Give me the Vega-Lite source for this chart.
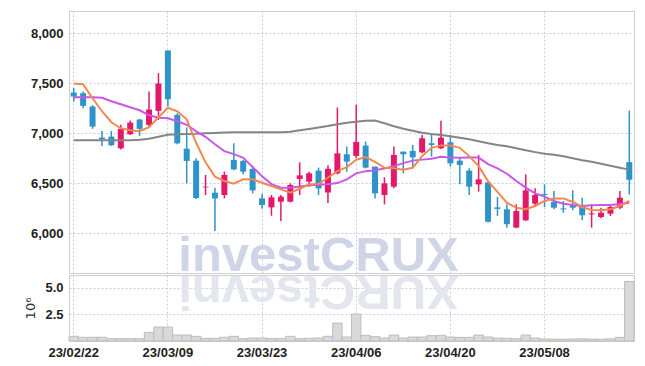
{
  "$schema": "https://vega.github.io/schema/vega-lite/v6.json",
  "padding": {"left": 24, "top": 10, "right": 9, "bottom": 4},
  "spacing": 0,
  "background": "white",
  "config": {
    "view": {"stroke": "#cfcfcf", "strokeWidth": 1},
    "axis": {
      "labelFont": "Liberation Sans",
      "labelFontWeight": "bold",
      "labelFontSize": 13,
      "labelColor": "#222222",
      "gridColor": "#c9cce0",
      "gridDash": [2, 2],
      "gridWidth": 1,
      "domain": false,
      "ticks": false,
      "tickSize": 0
    }
  },
  "datasets": {
    "ohlc": [
      {"date": "23/02/22", "open": 7407, "high": 7453, "low": 7317, "close": 7367, "volume": 440000, "ma5": 7497, "ma20": 7360, "ma60": 6930},
      {"date": "23/02/23", "open": 7400, "high": 7417, "low": 7250, "close": 7274, "volume": 350000, "ma5": 7490, "ma20": 7360, "ma60": 6930},
      {"date": "23/02/24", "open": 7267, "high": 7280, "low": 7044, "close": 7067, "volume": 350000, "ma5": 7350, "ma20": 7360, "ma60": 6930},
      {"date": "23/02/27", "open": 6957, "high": 7024, "low": 6874, "close": 6940, "volume": 350000, "ma5": 7220, "ma20": 7355, "ma60": 6930},
      {"date": "23/02/28", "open": 6967, "high": 7024, "low": 6874, "close": 6880, "volume": 220000, "ma5": 7110, "ma20": 7320, "ma60": 6930},
      {"date": "23/03/02", "open": 6850, "high": 7084, "low": 6837, "close": 7044, "volume": 220000, "ma5": 7050, "ma20": 7290, "ma60": 6930},
      {"date": "23/03/03", "open": 6990, "high": 7127, "low": 6984, "close": 7107, "volume": 220000, "ma5": 7030, "ma20": 7260, "ma60": 6930},
      {"date": "23/03/06", "open": 7137, "high": 7144, "low": 6974, "close": 7044, "volume": 220000, "ma5": 7020, "ma20": 7230, "ma60": 6935},
      {"date": "23/03/07", "open": 7084, "high": 7417, "low": 7070, "close": 7237, "volume": 810000, "ma5": 7060, "ma20": 7180, "ma60": 6945},
      {"date": "23/03/08", "open": 7224, "high": 7600, "low": 7134, "close": 7497, "volume": 1310000, "ma5": 7160, "ma20": 7155, "ma60": 6965},
      {"date": "23/03/09", "open": 7827, "high": 7827, "low": 7267, "close": 7340, "volume": 1310000, "ma5": 7255, "ma20": 7150, "ma60": 6985},
      {"date": "23/03/10", "open": 7184, "high": 7200, "low": 6890, "close": 6900, "volume": 560000, "ma5": 7220, "ma20": 7120, "ma60": 6990},
      {"date": "23/03/13", "open": 6847, "high": 7057, "low": 6500, "close": 6724, "volume": 560000, "ma5": 7140, "ma20": 7085, "ma60": 6993},
      {"date": "23/03/14", "open": 6727, "high": 6750, "low": 6344, "close": 6354, "volume": 440000, "ma5": 6905, "ma20": 7020, "ma60": 6995},
      {"date": "23/03/15", "open": 6460, "high": 6584, "low": 6384, "close": 6467, "volume": 250000, "ma5": 6710, "ma20": 6965, "ma60": 7000},
      {"date": "23/03/16", "open": 6407, "high": 6457, "low": 6024, "close": 6350, "volume": 250000, "ma5": 6567, "ma20": 6890, "ma60": 7003},
      {"date": "23/03/17", "open": 6384, "high": 6617, "low": 6350, "close": 6584, "volume": 350000, "ma5": 6523, "ma20": 6822, "ma60": 7007},
      {"date": "23/03/20", "open": 6734, "high": 6900, "low": 6630, "close": 6640, "volume": 440000, "ma5": 6496, "ma20": 6792, "ma60": 7010},
      {"date": "23/03/21", "open": 6724, "high": 6734, "low": 6590, "close": 6617, "volume": 220000, "ma5": 6540, "ma20": 6755, "ma60": 7010},
      {"date": "23/03/22", "open": 6644, "high": 6677, "low": 6400, "close": 6430, "volume": 280000, "ma5": 6540, "ma20": 6662, "ma60": 7010},
      {"date": "23/03/23", "open": 6350, "high": 6397, "low": 6250, "close": 6284, "volume": 280000, "ma5": 6506, "ma20": 6572, "ma60": 7010},
      {"date": "23/03/24", "open": 6260, "high": 6384, "low": 6177, "close": 6360, "volume": 220000, "ma5": 6473, "ma20": 6493, "ma60": 7010},
      {"date": "23/03/27", "open": 6317, "high": 6384, "low": 6124, "close": 6367, "volume": 250000, "ma5": 6440, "ma20": 6456, "ma60": 7010},
      {"date": "23/03/28", "open": 6317, "high": 6500, "low": 6310, "close": 6484, "volume": 440000, "ma5": 6406, "ma20": 6456, "ma60": 7015},
      {"date": "23/03/29", "open": 6544, "high": 6710, "low": 6384, "close": 6580, "volume": 220000, "ma5": 6446, "ma20": 6468, "ma60": 7030},
      {"date": "23/03/30", "open": 6517, "high": 6617, "low": 6467, "close": 6600, "volume": 250000, "ma5": 6490, "ma20": 6480, "ma60": 7043},
      {"date": "23/03/31", "open": 6627, "high": 6657, "low": 6384, "close": 6450, "volume": 280000, "ma5": 6496, "ma20": 6486, "ma60": 7057},
      {"date": "23/04/03", "open": 6410, "high": 6680, "low": 6304, "close": 6647, "volume": 440000, "ma5": 6556, "ma20": 6490, "ma60": 7073},
      {"date": "23/04/04", "open": 6600, "high": 7257, "low": 6590, "close": 6800, "volume": 1680000, "ma5": 6622, "ma20": 6503, "ma60": 7090},
      {"date": "23/04/05", "open": 6790, "high": 6867, "low": 6617, "close": 6717, "volume": 370000, "ma5": 6662, "ma20": 6540, "ma60": 7105},
      {"date": "23/04/06", "open": 6774, "high": 7284, "low": 6750, "close": 6914, "volume": 2530000, "ma5": 6735, "ma20": 6600, "ma60": 7115},
      {"date": "23/04/07", "open": 6877, "high": 6917, "low": 6650, "close": 6657, "volume": 530000, "ma5": 6762, "ma20": 6622, "ma60": 7125},
      {"date": "23/04/10", "open": 6667, "high": 6667, "low": 6350, "close": 6400, "volume": 410000, "ma5": 6715, "ma20": 6632, "ma60": 7128},
      {"date": "23/04/11", "open": 6384, "high": 6560, "low": 6290, "close": 6500, "volume": 280000, "ma5": 6656, "ma20": 6648, "ma60": 7100},
      {"date": "23/04/12", "open": 6467, "high": 6867, "low": 6450, "close": 6784, "volume": 560000, "ma5": 6650, "ma20": 6672, "ma60": 7070},
      {"date": "23/04/13", "open": 6817, "high": 6817, "low": 6600, "close": 6790, "volume": 280000, "ma5": 6636, "ma20": 6702, "ma60": 7045},
      {"date": "23/04/14", "open": 6824, "high": 6884, "low": 6667, "close": 6760, "volume": 370000, "ma5": 6656, "ma20": 6727, "ma60": 7025},
      {"date": "23/04/17", "open": 6810, "high": 6984, "low": 6800, "close": 6950, "volume": 370000, "ma5": 6772, "ma20": 6737, "ma60": 7005},
      {"date": "23/04/18", "open": 6900, "high": 6984, "low": 6767, "close": 6884, "volume": 500000, "ma5": 6855, "ma20": 6745, "ma60": 6992},
      {"date": "23/04/19", "open": 6850, "high": 7124, "low": 6844, "close": 6957, "volume": 530000, "ma5": 6879, "ma20": 6765, "ma60": 6982},
      {"date": "23/04/20", "open": 6910, "high": 6984, "low": 6667, "close": 6700, "volume": 370000, "ma5": 6879, "ma20": 6757, "ma60": 6970},
      {"date": "23/04/21", "open": 6727, "high": 6750, "low": 6490, "close": 6684, "volume": 340000, "ma5": 6855, "ma20": 6755, "ma60": 6955},
      {"date": "23/04/24", "open": 6627, "high": 6650, "low": 6384, "close": 6467, "volume": 340000, "ma5": 6772, "ma20": 6757, "ma60": 6940},
      {"date": "23/04/25", "open": 6490, "high": 6784, "low": 6417, "close": 6540, "volume": 560000, "ma5": 6672, "ma20": 6757, "ma60": 6920},
      {"date": "23/04/26", "open": 6510, "high": 6510, "low": 6110, "close": 6117, "volume": 370000, "ma5": 6523, "ma20": 6692, "ma60": 6900},
      {"date": "23/04/27", "open": 6260, "high": 6364, "low": 6175, "close": 6245, "volume": 280000, "ma5": 6415, "ma20": 6650, "ma60": 6883},
      {"date": "23/04/28", "open": 6241, "high": 6291, "low": 6058, "close": 6092, "volume": 250000, "ma5": 6307, "ma20": 6596, "ma60": 6870},
      {"date": "23/05/02", "open": 6058, "high": 6291, "low": 6052, "close": 6224, "volume": 220000, "ma5": 6257, "ma20": 6523, "ma60": 6850},
      {"date": "23/05/03", "open": 6131, "high": 6590, "low": 6124, "close": 6430, "volume": 560000, "ma5": 6241, "ma20": 6458, "ma60": 6830},
      {"date": "23/05/04", "open": 6297, "high": 6450, "low": 6264, "close": 6384, "volume": 280000, "ma5": 6274, "ma20": 6400, "ma60": 6812},
      {"date": "23/05/08", "open": 6395, "high": 6490, "low": 6264, "close": 6385, "volume": 190000, "ma5": 6324, "ma20": 6368, "ma60": 6795},
      {"date": "23/05/09", "open": 6314, "high": 6424, "low": 6241, "close": 6257, "volume": 180000, "ma5": 6350, "ma20": 6324, "ma60": 6785},
      {"date": "23/05/10", "open": 6250, "high": 6324, "low": 6207, "close": 6240, "volume": 170000, "ma5": 6350, "ma20": 6297, "ma60": 6770},
      {"date": "23/05/11", "open": 6281, "high": 6430, "low": 6231, "close": 6257, "volume": 190000, "ma5": 6314, "ma20": 6284, "ma60": 6750},
      {"date": "23/05/12", "open": 6274, "high": 6357, "low": 6131, "close": 6181, "volume": 200000, "ma5": 6264, "ma20": 6274, "ma60": 6730},
      {"date": "23/05/15", "open": 6190, "high": 6291, "low": 6058, "close": 6200, "volume": 180000, "ma5": 6234, "ma20": 6281, "ma60": 6715},
      {"date": "23/05/16", "open": 6164, "high": 6257, "low": 6151, "close": 6207, "volume": 170000, "ma5": 6231, "ma20": 6284, "ma60": 6695},
      {"date": "23/05/17", "open": 6197, "high": 6291, "low": 6174, "close": 6264, "volume": 200000, "ma5": 6241, "ma20": 6284, "ma60": 6675},
      {"date": "23/05/18", "open": 6257, "high": 6424, "low": 6241, "close": 6357, "volume": 340000, "ma5": 6274, "ma20": 6294, "ma60": 6655},
      {"date": "23/05/19", "open": 6712, "high": 7227, "low": 6390, "close": 6536, "volume": 5590000, "ma5": 6324, "ma20": 6307, "ma60": 6637}
    ],
    "dates": [
      {"d": "23/02/22"}, {"d": "23/02/23"}, {"d": "23/02/24"}, {"d": "23/02/27"}, {"d": "23/02/28"},
      {"d": "23/03/02"}, {"d": "23/03/03"}, {"d": "23/03/06"}, {"d": "23/03/07"}, {"d": "23/03/08"},
      {"d": "23/03/09"}, {"d": "23/03/10"}, {"d": "23/03/13"}, {"d": "23/03/14"}, {"d": "23/03/15"},
      {"d": "23/03/16"}, {"d": "23/03/17"}, {"d": "23/03/20"}, {"d": "23/03/21"}, {"d": "23/03/22"},
      {"d": "23/03/23"}, {"d": "23/03/24"}, {"d": "23/03/27"}, {"d": "23/03/28"}, {"d": "23/03/29"},
      {"d": "23/03/30"}, {"d": "23/03/31"}, {"d": "23/04/03"}, {"d": "23/04/04"}, {"d": "23/04/05"},
      {"d": "23/04/06"}, {"d": "23/04/07"}, {"d": "23/04/10"}, {"d": "23/04/11"}, {"d": "23/04/12"},
      {"d": "23/04/13"}, {"d": "23/04/14"}, {"d": "23/04/17"}, {"d": "23/04/18"}, {"d": "23/04/19"},
      {"d": "23/04/20"}, {"d": "23/04/21"}, {"d": "23/04/24"}, {"d": "23/04/25"}, {"d": "23/04/26"},
      {"d": "23/04/27"}, {"d": "23/04/28"}, {"d": "23/05/02"}, {"d": "23/05/03"}, {"d": "23/05/04"},
      {"d": "23/05/08"}, {"d": "23/05/09"}, {"d": "23/05/10"}, {"d": "23/05/11"}, {"d": "23/05/12"},
      {"d": "23/05/15"}, {"d": "23/05/16"}, {"d": "23/05/17"}, {"d": "23/05/18"}, {"d": "23/05/19"}
    ]
  },
  "vconcat": [
    {
      "width": 565,
      "height": 262,
      "data": {"name": "ohlc"},
      "encoding": {
        "x": {
          "field": "date",
          "type": "ordinal",
          "scale": {
            "paddingInner": 0,
            "paddingOuter": 0,
            "domain": ["23/02/22","23/02/23","23/02/24","23/02/27","23/02/28","23/03/02","23/03/03","23/03/06","23/03/07","23/03/08","23/03/09","23/03/10","23/03/13","23/03/14","23/03/15","23/03/16","23/03/17","23/03/20","23/03/21","23/03/22","23/03/23","23/03/24","23/03/27","23/03/28","23/03/29","23/03/30","23/03/31","23/04/03","23/04/04","23/04/05","23/04/06","23/04/07","23/04/10","23/04/11","23/04/12","23/04/13","23/04/14","23/04/17","23/04/18","23/04/19","23/04/20","23/04/21","23/04/24","23/04/25","23/04/26","23/04/27","23/04/28","23/05/02","23/05/03","23/05/04","23/05/08","23/05/09","23/05/10","23/05/11","23/05/12","23/05/15","23/05/16","23/05/17","23/05/18","23/05/19"]
          },
          "axis": {
            "title": null,
            "labels": false,
            "grid": true,
            "bandPosition": 0.5,
            "values": ["23/02/22", "23/03/09", "23/03/23", "23/04/06", "23/04/20", "23/05/08"]
          }
        }
      },
      "layer": [
        {
          "transform": [{"filter": "datum.date == '23/03/31'"}],
          "mark": {"type": "text", "clip": true, "font": "Liberation Sans", "fontWeight": "bold", "fontSize": 49, "align": "center", "baseline": "alphabetic", "color": "#cfd5e7"},
          "encoding": {
            "y": {"datum": 5628, "type": "quantitative", "scale": {"domain": [5605, 8221], "nice": false, "zero": false}},
            "text": {"value": "investCRUX"}
          }
        },
        {
          "mark": {"type": "rule", "strokeWidth": 1.5},
          "encoding": {
            "y": {
              "field": "low",
              "type": "quantitative",
              "scale": {"domain": [5605, 8221], "nice": false, "zero": false},
              "axis": {"title": null, "grid": true, "values": [6000, 6500, 7000, 7500, 8000], "format": ",.0f", "labelPadding": 6}
            },
            "y2": {"field": "high"},
            "color": {"condition": {"test": "datum.close >= datum.open", "value": "#e3186b"}, "value": "#2e93c8"}
          }
        },
        {
          "mark": {"type": "bar", "size": 6},
          "encoding": {
            "y": {"field": "open", "type": "quantitative"},
            "y2": {"field": "close"},
            "color": {"condition": {"test": "datum.close >= datum.open", "value": "#e3186b"}, "value": "#2e93c8"}
          }
        },
        {
          "mark": {"type": "line", "color": "#858585", "strokeWidth": 2},
          "encoding": {"y": {"field": "ma60", "type": "quantitative"}}
        },
        {
          "mark": {"type": "line", "color": "#c957e8", "strokeWidth": 2},
          "encoding": {"y": {"field": "ma20", "type": "quantitative"}}
        },
        {
          "mark": {"type": "line", "color": "#f0894e", "strokeWidth": 2},
          "encoding": {"y": {"field": "ma5", "type": "quantitative"}}
        }
      ]
    },
    {
      "width": 565,
      "height": 66,
      "data": {"name": "ohlc"},
      "encoding": {
        "x": {
          "field": "date",
          "type": "ordinal",
          "scale": {
            "paddingInner": 0,
            "paddingOuter": 0,
            "domain": ["23/02/22","23/02/23","23/02/24","23/02/27","23/02/28","23/03/02","23/03/03","23/03/06","23/03/07","23/03/08","23/03/09","23/03/10","23/03/13","23/03/14","23/03/15","23/03/16","23/03/17","23/03/20","23/03/21","23/03/22","23/03/23","23/03/24","23/03/27","23/03/28","23/03/29","23/03/30","23/03/31","23/04/03","23/04/04","23/04/05","23/04/06","23/04/07","23/04/10","23/04/11","23/04/12","23/04/13","23/04/14","23/04/17","23/04/18","23/04/19","23/04/20","23/04/21","23/04/24","23/04/25","23/04/26","23/04/27","23/04/28","23/05/02","23/05/03","23/05/04","23/05/08","23/05/09","23/05/10","23/05/11","23/05/12","23/05/15","23/05/16","23/05/17","23/05/18","23/05/19"]
          },
          "axis": {
            "title": null,
            "labelAngle": 0,
            "labelPadding": 5,
            "grid": true,
            "bandPosition": 0.5,
            "values": ["23/02/22", "23/03/09", "23/03/23", "23/04/06", "23/04/20", "23/05/08"]
          }
        }
      },
      "layer": [
        {
          "transform": [{"filter": "datum.date == '23/03/31'"}],
          "mark": {"type": "text", "clip": true, "font": "Liberation Sans", "fontWeight": "bold", "fontSize": 49, "align": "center", "baseline": "alphabetic", "angle": 180, "color": "#e3e6ef"},
          "encoding": {
            "y": {"datum": 6100000, "type": "quantitative", "scale": {"domain": [0, 6200000], "nice": false}},
            "text": {"value": "XURCtsevni"}
          }
        },
        {
          "mark": {"type": "bar", "width": {"band": 1}, "fill": "#d9d9d9", "stroke": "#bdbdbd", "strokeWidth": 1},
          "encoding": {
            "y": {
              "field": "volume",
              "type": "quantitative",
              "scale": {"domain": [0, 6200000], "nice": false},
              "axis": {
                "title": "10⁶",
                "titleFont": "DejaVu Sans",
                "titleFontSize": 13,
                "titleFontWeight": "normal",
                "titleColor": "#333333",
                "titlePadding": 7,
                "grid": true,
                "values": [2500000, 5000000],
                "labelExpr": "format(datum.value / 1000000, '.1f')",
                "labelPadding": 6
              }
            }
          }
        }
      ]
    }
  ]
}
